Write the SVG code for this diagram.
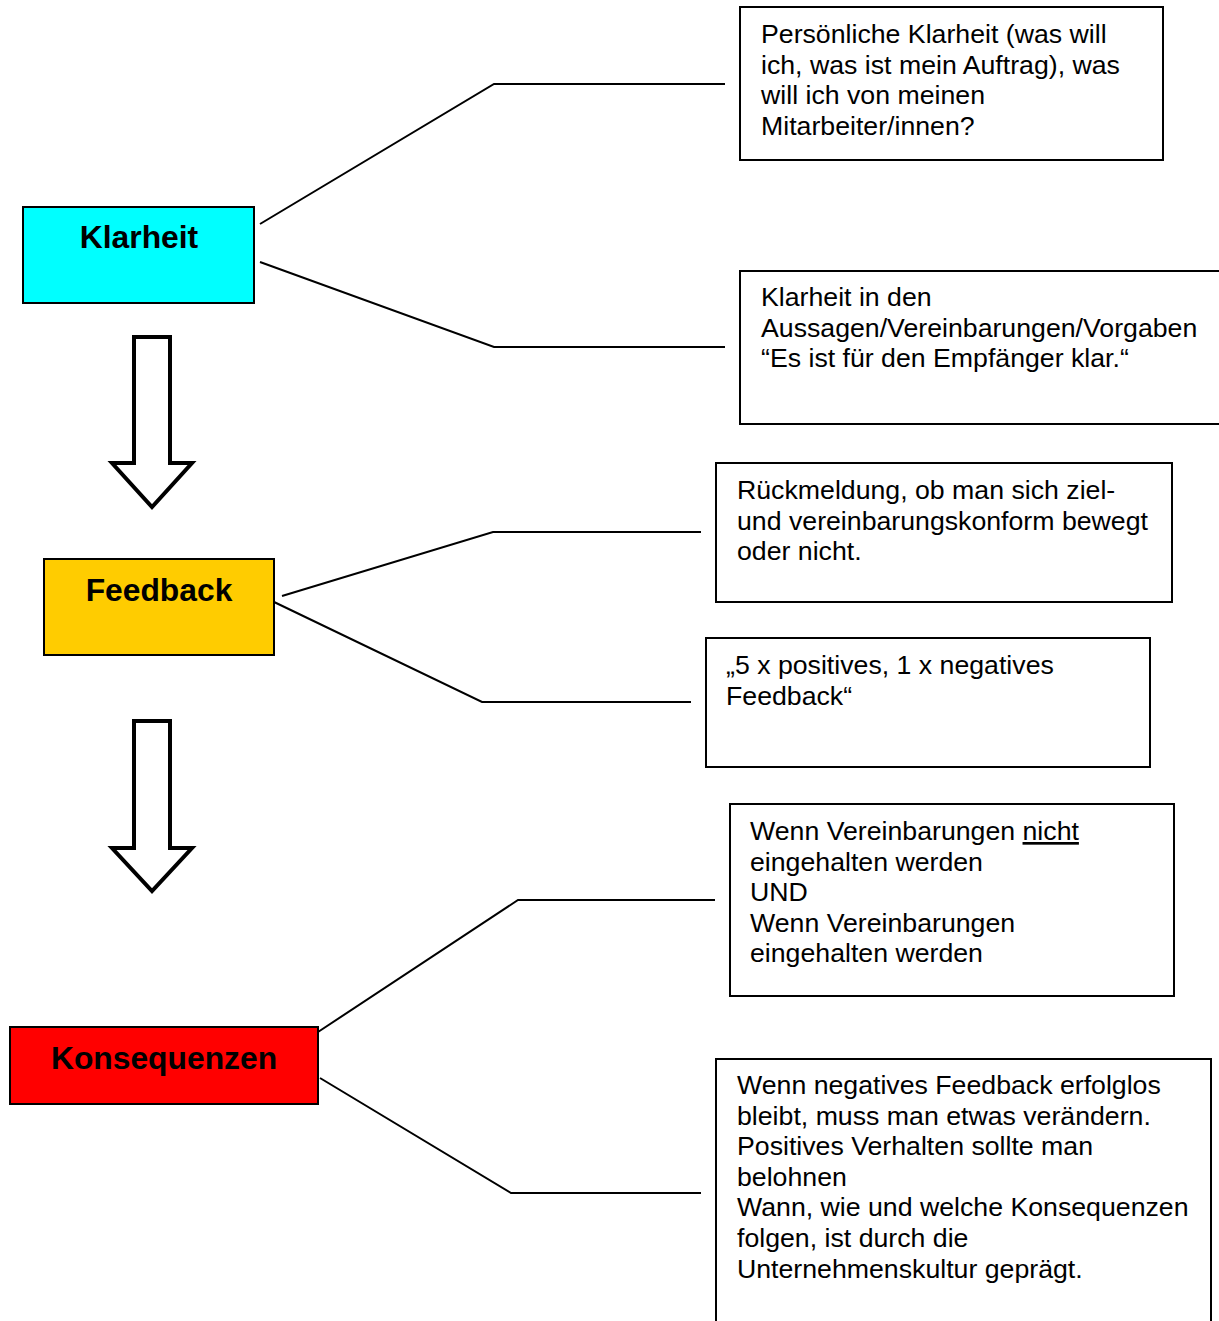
<svg xmlns="http://www.w3.org/2000/svg" width="1219" height="1321" viewBox="0 0 1219 1321">
  <style>
    .bg { fill: #ffffff; }
    .topic { stroke: #000000; stroke-width: 2; }
    .note { fill: #ffffff; stroke: #000000; stroke-width: 2; }
    .title { font-family: "Liberation Sans", Arial, sans-serif; font-size: 31.8px; font-weight: bold; fill: #000000; text-anchor: middle; }
    .body { font-family: "Liberation Sans", Arial, sans-serif; font-size: 26.7px; fill: #000000; }
    .link { fill: none; stroke: #000000; stroke-width: 2; }
    .flow { fill: #ffffff; stroke: #000000; stroke-width: 4; stroke-linejoin: miter; }
  </style>
  <rect class="bg" x="0" y="0" width="1219" height="1321"/>

  <!-- connectors -->
  <g id="connectors">
    <polyline class="link" points="260,224 494,84 725,84"/>
    <polyline class="link" points="260,262 494,347 725,347"/>
    <polyline class="link" points="282,596 493,532 701,532"/>
    <polyline class="link" points="272,601 482,702 691,702"/>
    <polyline class="link" points="318,1032 518,900 715,900"/>
    <polyline class="link" points="320,1078 511,1193 701,1193"/>
    <path class="flow" d="M134,337 H170 V463 H192 L152,507 L112,463 H134 Z"/>
    <path class="flow" d="M134,721 H170 V848 H192 L152,891 L112,848 H134 Z"/>
  </g>

  <!-- main topics -->
  <g id="klarheit">
    <rect class="topic" x="23" y="207" width="231" height="96" fill="#00FFFF"/>
    <text class="title" x="139" y="248">Klarheit</text>
  </g>
  <g id="feedback">
    <rect class="topic" x="44" y="559" width="230" height="96" fill="#FFCC00"/>
    <text class="title" x="159" y="601">Feedback</text>
  </g>
  <g id="konsequenzen">
    <rect class="topic" x="10" y="1027" width="308" height="77" fill="#FF0000"/>
    <text class="title" x="164" y="1069">Konsequenzen</text>
  </g>

  <!-- notes -->
  <g id="note-klarheit-1">
    <rect class="note" x="740" y="7" width="423" height="153"/>
    <text class="body">
      <tspan x="761" y="43">Persönliche Klarheit (was will</tspan>
      <tspan x="761" y="73.6">ich, was ist mein Auftrag), was</tspan>
      <tspan x="761" y="104.2">will ich von meinen</tspan>
      <tspan x="761" y="134.8">Mitarbeiter/innen?</tspan>
    </text>
  </g>
  <g id="note-klarheit-2">
    <rect class="note" x="740" y="271" width="500" height="153"/>
    <text class="body">
      <tspan x="761" y="306">Klarheit in den</tspan>
      <tspan x="761" y="336.6">Aussagen/Vereinbarungen/Vorgaben</tspan>
      <tspan x="761" y="367.2">“Es ist für den Empfänger klar.“</tspan>
    </text>
  </g>
  <g id="note-feedback-1">
    <rect class="note" x="716" y="463" width="456" height="139"/>
    <text class="body">
      <tspan x="737" y="499">Rückmeldung, ob man sich ziel-</tspan>
      <tspan x="737" y="529.6">und vereinbarungskonform bewegt</tspan>
      <tspan x="737" y="560.2">oder nicht.</tspan>
    </text>
  </g>
  <g id="note-feedback-2">
    <rect class="note" x="706" y="638" width="444" height="129"/>
    <text class="body">
      <tspan x="726" y="674">„5 x positives, 1 x negatives</tspan>
      <tspan x="726" y="704.6">Feedback“</tspan>
    </text>
  </g>
  <g id="note-konsequenzen-1">
    <rect class="note" x="730" y="804" width="444" height="192"/>
    <text class="body">
      <tspan x="750" y="840">Wenn Vereinbarungen <tspan text-decoration="underline">nicht</tspan></tspan>
      <tspan x="750" y="870.6">eingehalten werden</tspan>
      <tspan x="750" y="901.2">UND</tspan>
      <tspan x="750" y="931.8">Wenn Vereinbarungen</tspan>
      <tspan x="750" y="962.4">eingehalten werden</tspan>
    </text>
  </g>
  <g id="note-konsequenzen-2">
    <rect class="note" x="716" y="1059" width="495" height="300"/>
    <text class="body">
      <tspan x="737" y="1094">Wenn negatives Feedback erfolglos</tspan>
      <tspan x="737" y="1124.6">bleibt, muss man etwas verändern.</tspan>
      <tspan x="737" y="1155.2">Positives Verhalten sollte man</tspan>
      <tspan x="737" y="1185.8">belohnen</tspan>
      <tspan x="737" y="1216.4">Wann, wie und welche Konsequenzen</tspan>
      <tspan x="737" y="1247">folgen, ist durch die</tspan>
      <tspan x="737" y="1277.6">Unternehmenskultur geprägt.</tspan>
    </text>
  </g>
</svg>
